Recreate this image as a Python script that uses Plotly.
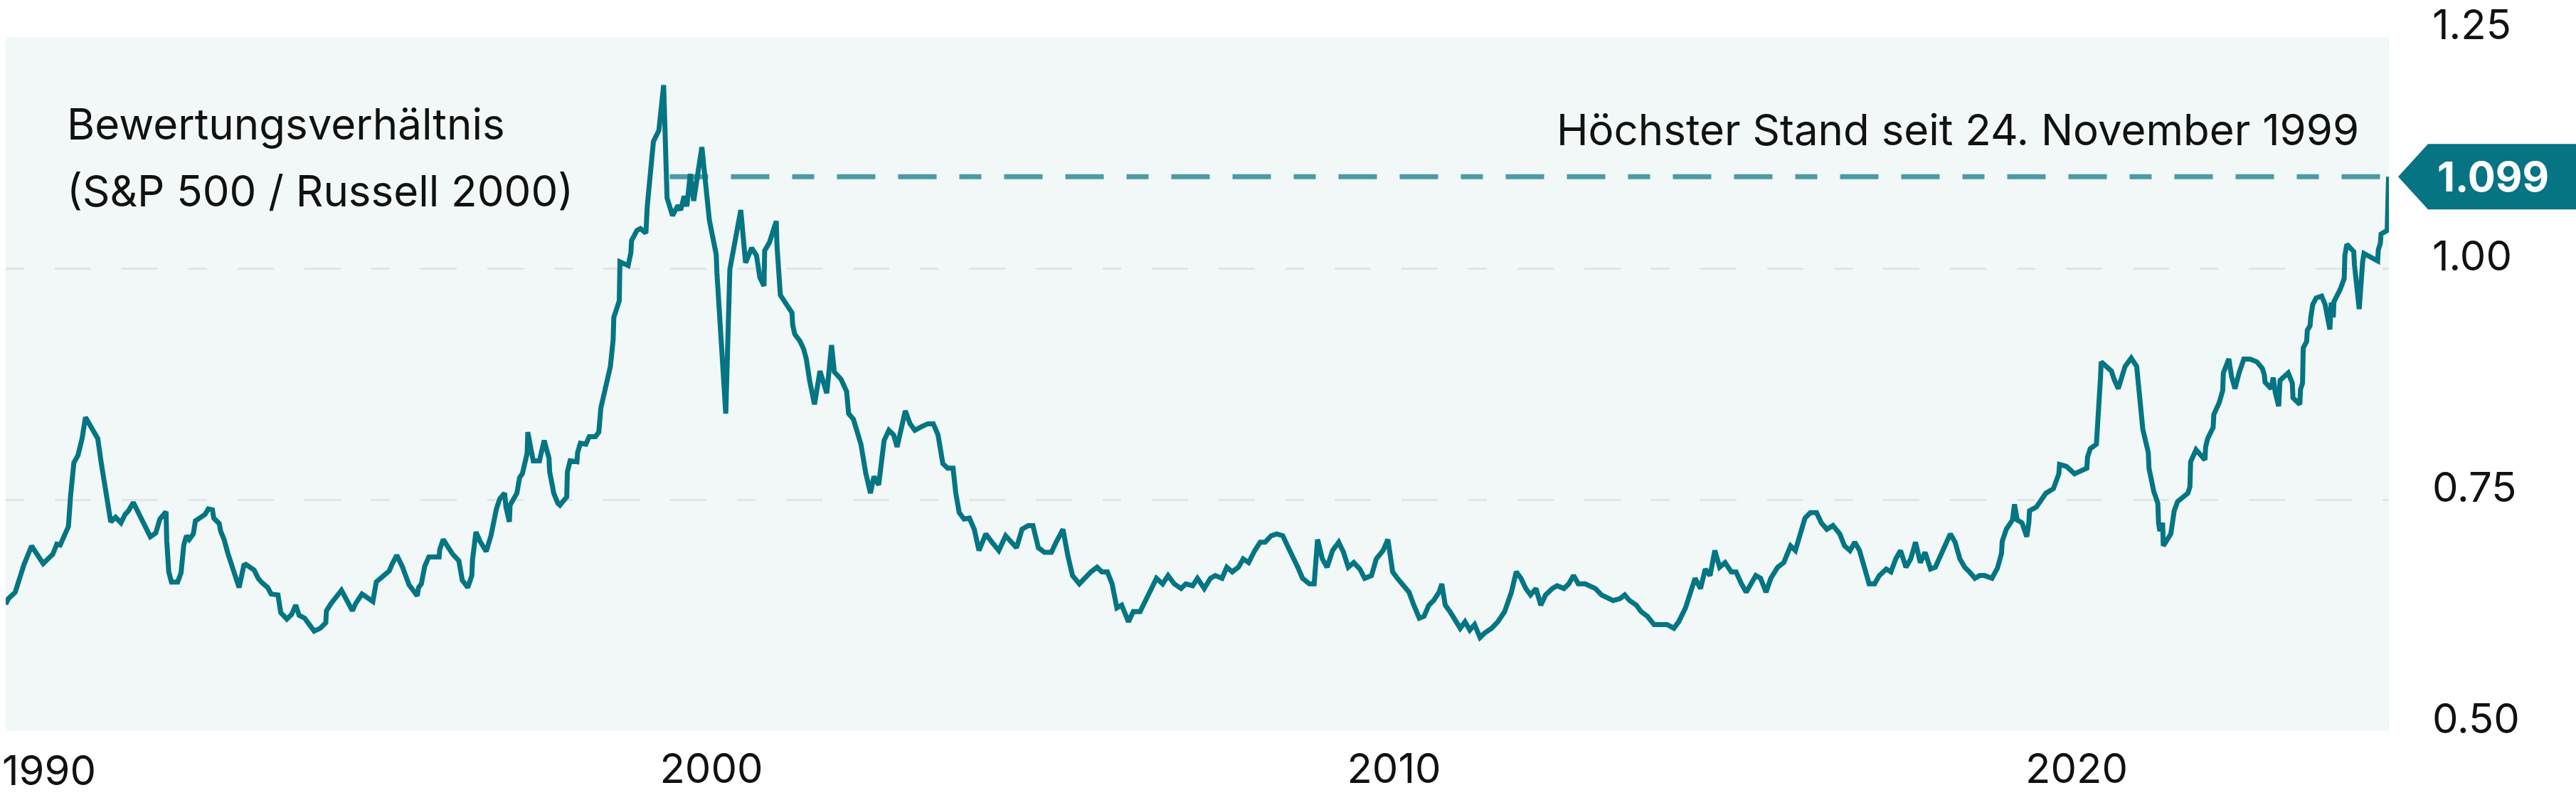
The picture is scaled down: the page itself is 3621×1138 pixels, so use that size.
import plotly.graph_objects as go

# Bewertungsverhältnis S&P 500 / Russell 2000
years = [
    1989.66, 1989.70, 1989.80, 1989.85, 1989.93, 1990.04, 1990.12, 1990.21, 1990.35, 1990.41,
    1990.46, 1990.58, 1990.61, 1990.66, 1990.72, 1990.78, 1990.83, 1990.92, 1991.01, 1991.06,
    1991.12, 1991.20, 1991.27, 1991.35, 1991.41, 1991.46, 1991.53, 1991.61, 1991.66, 1991.78,
    1991.86, 1991.92, 1992.01, 1992.02, 1992.05, 1992.09, 1992.18, 1992.23, 1992.27, 1992.31,
    1992.35, 1992.41, 1992.44, 1992.52, 1992.58, 1992.63, 1992.69, 1992.71, 1992.79, 1992.81,
    1992.86, 1992.92, 1993.00, 1993.08, 1993.15, 1993.18, 1993.30, 1993.36, 1993.42, 1993.50,
    1993.55, 1993.65, 1993.69, 1993.78, 1993.85, 1993.91, 1993.96, 1994.04, 1994.12, 1994.18,
    1994.27, 1994.35, 1994.36, 1994.43, 1994.58, 1994.65, 1994.74, 1994.79, 1994.88, 1995.04,
    1995.06, 1995.09, 1995.20, 1995.28, 1995.32, 1995.39, 1995.47, 1995.55, 1995.57, 1995.69,
    1995.71, 1995.75, 1995.80, 1995.86, 1996.01, 1996.02, 1996.07, 1996.14, 1996.21, 1996.30,
    1996.35, 1996.43, 1996.49, 1996.50, 1996.55, 1996.61, 1996.70, 1996.77, 1996.85, 1996.90,
    1996.97, 1996.99, 1997.04, 1997.05, 1997.15, 1997.19, 1997.23, 1997.30, 1997.31, 1997.35,
    1997.39, 1997.48, 1997.55, 1997.62, 1997.63, 1997.67, 1997.69, 1997.75, 1997.78, 1997.88,
    1997.89, 1997.93, 1998.03, 1998.04, 1998.08, 1998.16, 1998.21, 1998.30, 1998.35, 1998.38,
    1998.44, 1998.49, 1998.52, 1998.56, 1998.57, 1998.65, 1998.66, 1998.78, 1998.82, 1998.83,
    1998.91, 1998.96, 1999.04, 1999.06, 1999.11, 1999.14, 1999.15, 1999.23, 1999.30, 1999.32,
    1999.33, 1999.35, 1999.43, 1999.51, 1999.55, 1999.60, 1999.64, 1999.69, 1999.74, 1999.86,
    1999.97, 2000.07, 2000.08, 2000.21, 2000.27, 2000.43, 2000.50, 2000.59, 2000.66, 2000.71,
    2000.77, 2000.78, 2000.85, 2000.95, 2000.96, 2001.01, 2001.18, 2001.19, 2001.22, 2001.30,
    2001.35, 2001.39, 2001.44, 2001.51, 2001.59, 2001.69, 2001.76, 2001.80, 2001.90, 2001.98,
    2002.01, 2002.08, 2002.19, 2002.26, 2002.33, 2002.38, 2002.45, 2002.53, 2002.60, 2002.67,
    2002.72, 2002.77, 2002.84, 2002.91, 2002.98, 2003.08, 2003.17, 2003.25, 2003.32, 2003.39,
    2003.46, 2003.54, 2003.58, 2003.63, 2003.70, 2003.78, 2003.85, 2003.92, 2004.02, 2004.11,
    2004.21, 2004.31, 2004.40, 2004.47, 2004.55, 2004.64, 2004.71, 2004.79, 2004.88, 2004.98,
    2005.05, 2005.15, 2005.22, 2005.29, 2005.39, 2005.46, 2005.56, 2005.65, 2005.72, 2005.80,
    2005.87, 2005.94, 2006.01, 2006.11, 2006.18, 2006.28, 2006.35, 2006.42, 2006.52, 2006.61,
    2006.69, 2006.78, 2006.88, 2006.95, 2007.05, 2007.12, 2007.22, 2007.31, 2007.38, 2007.48,
    2007.55, 2007.63, 2007.72, 2007.79, 2007.87, 2007.96, 2008.04, 2008.11, 2008.20, 2008.28,
    2008.37, 2008.44, 2008.52, 2008.59, 2008.66, 2008.76, 2008.83, 2008.88, 2008.95, 2009.02,
    2009.10, 2009.19, 2009.26, 2009.33, 2009.41, 2009.50, 2009.57, 2009.67, 2009.74, 2009.84,
    2009.91, 2009.98, 2010.05, 2010.15, 2010.22, 2010.29, 2010.37, 2010.44, 2010.51, 2010.58,
    2010.66, 2010.70, 2010.75, 2010.82, 2010.90, 2010.97, 2011.04, 2011.11, 2011.18, 2011.26,
    2011.33, 2011.43, 2011.52, 2011.62, 2011.72, 2011.79, 2011.86, 2011.93, 2012.00, 2012.08,
    2012.15, 2012.22, 2012.32, 2012.39, 2012.49, 2012.56, 2012.63, 2012.70, 2012.80, 2012.87,
    2012.95, 2013.04, 2013.14, 2013.21, 2013.31, 2013.38, 2013.45, 2013.55, 2013.62, 2013.71,
    2013.81, 2013.91, 2014.00, 2014.10, 2014.17, 2014.27, 2014.34, 2014.41, 2014.49, 2014.56,
    2014.63, 2014.70, 2014.77, 2014.85, 2014.94, 2015.01, 2015.09, 2015.16, 2015.23, 2015.30,
    2015.37, 2015.45, 2015.52, 2015.62, 2015.71, 2015.81, 2015.88, 2015.95, 2016.02, 2016.10,
    2016.19, 2016.26, 2016.34, 2016.43, 2016.53, 2016.60, 2016.68, 2016.75, 2016.82, 2016.89,
    2016.96, 2017.04, 2017.11, 2017.21, 2017.28, 2017.35, 2017.42, 2017.50, 2017.57, 2017.64,
    2017.71, 2017.78, 2017.86, 2017.93, 2018.00, 2018.07, 2018.15, 2018.22, 2018.29, 2018.36,
    2018.43, 2018.51, 2018.58, 2018.65, 2018.76, 2018.84, 2018.90, 2018.91, 2018.97, 2019.06,
    2019.09, 2019.13, 2019.20, 2019.27, 2019.30, 2019.31, 2019.41, 2019.47, 2019.55, 2019.66,
    2019.74, 2019.75, 2019.80, 2019.85, 2019.97, 2020.15, 2020.16, 2020.20, 2020.29, 2020.30,
    2020.33, 2020.34, 2020.35, 2020.36, 2020.51, 2020.55, 2020.61, 2020.71, 2020.80, 2020.88,
    2020.92, 2020.97, 2021.05, 2021.06, 2021.13, 2021.19, 2021.20, 2021.22, 2021.26, 2021.27,
    2021.38, 2021.42, 2021.43, 2021.48, 2021.55, 2021.63, 2021.66, 2021.67, 2021.75, 2021.88,
    2021.89, 2021.92, 2022.00, 2022.01, 2022.09, 2022.14, 2022.15, 2022.23, 2022.27, 2022.32,
    2022.38, 2022.45, 2022.54, 2022.64, 2022.72, 2022.75, 2022.76, 2022.85, 2022.88, 2022.91,
    2022.96, 2022.98, 2023.10, 2023.16, 2023.17, 2023.27, 2023.28, 2023.31, 2023.32, 2023.37,
    2023.38, 2023.42, 2023.43, 2023.46, 2023.51, 2023.59, 2023.64, 2023.71, 2023.73, 2023.76,
    2023.77, 2023.86, 2023.92, 2023.93, 2023.96, 2024.06, 2024.07, 2024.14, 2024.19, 2024.21,
    2024.41, 2024.42, 2024.45, 2024.46, 2024.55, 2024.56, 2024.57,
]
ratio = [
    0.637, 0.643, 0.650, 0.663, 0.680, 0.700, 0.692, 0.681, 0.691, 0.702,
    0.701, 0.721, 0.753, 0.790, 0.798, 0.816, 0.839, 0.828, 0.816, 0.790,
    0.759, 0.726, 0.731, 0.725, 0.734, 0.738, 0.747, 0.736, 0.727, 0.710,
    0.714, 0.729, 0.737, 0.706, 0.672, 0.661, 0.661, 0.671, 0.701, 0.711,
    0.707, 0.713, 0.727, 0.731, 0.734, 0.740, 0.739, 0.730, 0.724, 0.716,
    0.707, 0.691, 0.671, 0.655, 0.679, 0.680, 0.674, 0.665, 0.660, 0.655,
    0.648, 0.647, 0.628, 0.621, 0.626, 0.636, 0.625, 0.622, 0.614, 0.608,
    0.611, 0.617, 0.630, 0.638, 0.652, 0.643, 0.630, 0.638, 0.648, 0.640,
    0.650, 0.661, 0.668, 0.673, 0.680, 0.690, 0.678, 0.664, 0.658, 0.646,
    0.655, 0.659, 0.678, 0.688, 0.688, 0.696, 0.707, 0.699, 0.691, 0.684,
    0.663, 0.655, 0.668, 0.685, 0.715, 0.705, 0.694, 0.711, 0.740, 0.751,
    0.757, 0.742, 0.726, 0.744, 0.757, 0.774, 0.778, 0.800, 0.823, 0.807,
    0.792, 0.792, 0.814, 0.795, 0.780, 0.765, 0.757, 0.746, 0.744, 0.753,
    0.780, 0.792, 0.791, 0.801, 0.811, 0.810, 0.818, 0.818, 0.823, 0.849,
    0.867, 0.880, 0.894, 0.923, 0.947, 0.965, 1.007, 1.003, 1.017, 1.030,
    1.041, 1.043, 1.038, 1.067, 1.105, 1.124, 1.137, 1.149, 1.198, 1.149,
    1.097, 1.076, 1.057, 1.068, 1.063, 1.078, 1.067, 1.102, 1.073, 1.131,
    1.052, 1.015, 0.996, 0.843, 0.999, 1.063, 1.006, 1.022, 1.014, 0.990,
    0.981, 1.019, 1.028, 1.051, 1.025, 0.971, 0.952, 0.939, 0.929, 0.921,
    0.913, 0.902, 0.878, 0.853, 0.889, 0.865, 0.917, 0.888, 0.880, 0.867,
    0.843, 0.837, 0.810, 0.779, 0.757, 0.775, 0.766, 0.814, 0.825, 0.820,
    0.807, 0.825, 0.846, 0.832, 0.825, 0.829, 0.832, 0.832, 0.820, 0.789,
    0.784, 0.784, 0.757, 0.736, 0.729, 0.730, 0.718, 0.695, 0.713, 0.704,
    0.695, 0.711, 0.704, 0.698, 0.718, 0.722, 0.722, 0.698, 0.693, 0.693,
    0.704, 0.718, 0.690, 0.668, 0.659, 0.665, 0.672, 0.677, 0.672, 0.672,
    0.659, 0.633, 0.636, 0.618, 0.629, 0.629, 0.640, 0.650, 0.665, 0.659,
    0.668, 0.659, 0.654, 0.659, 0.657, 0.665, 0.654, 0.665, 0.668, 0.665,
    0.677, 0.672, 0.677, 0.686, 0.682, 0.695, 0.704, 0.704, 0.711, 0.713,
    0.711, 0.700, 0.686, 0.677, 0.665, 0.659, 0.659, 0.707, 0.686, 0.677,
    0.695, 0.704, 0.693, 0.677, 0.682, 0.675, 0.665, 0.668, 0.686, 0.695,
    0.707, 0.672, 0.665, 0.657, 0.650, 0.636, 0.622, 0.624, 0.636, 0.641,
    0.650, 0.659, 0.636, 0.629, 0.618, 0.611, 0.618, 0.609, 0.615, 0.601,
    0.606, 0.611, 0.618, 0.629, 0.650, 0.672, 0.665, 0.654, 0.647, 0.654,
    0.636, 0.647, 0.654, 0.657, 0.654, 0.659, 0.668, 0.659, 0.659, 0.657,
    0.654, 0.647, 0.643, 0.641, 0.643, 0.647, 0.641, 0.636, 0.629, 0.624,
    0.615, 0.615, 0.615, 0.611, 0.618, 0.633, 0.650, 0.665, 0.654, 0.675,
    0.668, 0.695, 0.677, 0.682, 0.672, 0.672, 0.659, 0.650, 0.659, 0.668,
    0.665, 0.650, 0.665, 0.677, 0.682, 0.700, 0.695, 0.713, 0.730, 0.736,
    0.736, 0.725, 0.718, 0.722, 0.713, 0.700, 0.695, 0.704, 0.695, 0.677,
    0.659, 0.659, 0.668, 0.675, 0.672, 0.686, 0.695, 0.677, 0.686, 0.704,
    0.682, 0.693, 0.675, 0.677, 0.690, 0.700, 0.713, 0.704, 0.686, 0.677,
    0.672, 0.665, 0.668, 0.668, 0.665, 0.676, 0.692, 0.705, 0.718, 0.728,
    0.745, 0.728, 0.725, 0.710, 0.725, 0.738, 0.742, 0.748, 0.757, 0.762,
    0.778, 0.788, 0.787, 0.786, 0.778, 0.784, 0.796, 0.805, 0.810, 0.822,
    0.841, 0.861, 0.882, 0.899, 0.889, 0.880, 0.870, 0.894, 0.903, 0.894,
    0.861, 0.826, 0.801, 0.784, 0.759, 0.746, 0.725, 0.716, 0.725, 0.700,
    0.713, 0.728, 0.738, 0.748, 0.753, 0.757, 0.764, 0.791, 0.804, 0.793,
    0.807, 0.816, 0.828, 0.842, 0.855, 0.868, 0.887, 0.902, 0.883, 0.870,
    0.887, 0.902, 0.902, 0.899, 0.892, 0.885, 0.877, 0.870, 0.882, 0.866,
    0.851, 0.879, 0.887, 0.876, 0.860, 0.853, 0.869, 0.876, 0.914, 0.921,
    0.933, 0.938, 0.947, 0.961, 0.968, 0.970, 0.961, 0.934, 0.963, 0.947,
    0.964, 0.977, 0.989, 1.014, 1.026, 1.018, 1.004, 0.956, 1.007, 1.016,
    1.008, 1.020, 1.027, 1.037, 1.041, 1.077, 1.099,
]

x_range = [1989.661, 2024.575]
x_ticks = [2000, 2010, 2020]
x_ticktext = ["2000", "2010", "2020"]
first_year_label = "1990"

y_ticks = [0.50, 0.75, 1.00, 1.25]
y_ticktext = ["0.50", "0.75", "1.00", "1.25"]

ref_level = 1.099
ref_label = "1.099"
ref_start = 1999.39
ref_text = "Höchster Stand seit 24. November 1999"
title_lines = ["Bewertungsverhältnis", "(S&P 500 / Russell 2000)"]

TEAL = "#047583"
TEAL_LIGHT = "#4a9ba6"
GRID = "#e0e6e6"
BG = "#f2f7f7"
FONT = "Inter, Noto Sans, sans-serif"
FS = 58
FS_TEXT = 60

fig = go.Figure()

# reference level (dashed)
fig.add_trace(
    go.Scatter(
        x=[ref_start, years[-1]],
        y=[ref_level, ref_level],
        mode="lines",
        line=dict(color=TEAL_LIGHT, width=7, dash="54px,32px,54px,32px,31px,32px"),
        hoverinfo="skip",
        showlegend=False,
    )
)

fig.add_trace(
    go.Scatter(
        x=years,
        y=ratio,
        mode="lines",
        line=dict(color=TEAL, width=7),
        showlegend=False,
    )
)

fig.update_layout(
    width=3621,
    height=1138,
    margin=dict(l=8, r=263, t=52, b=111),
    paper_bgcolor="white",
    plot_bgcolor=BG,
    font=dict(family=FONT, size=FS_TEXT, color="#111111"),
    showlegend=False,
)

fig.update_xaxes(
    range=x_range,
    tickvals=x_ticks,
    ticktext=x_ticktext,
    showgrid=False,
    zeroline=False,
    showline=False,
    ticks="",
    ticklabelstandoff=14,
    automargin=False,
    tickfont=dict(family=FONT, size=FS, color="#111111"),
)

fig.update_yaxes(
    range=[0.5, 1.25],
    tickvals=y_ticks,
    ticktext=y_ticktext,
    side="right",
    showgrid=True,
    gridcolor=GRID,
    gridwidth=3,
    griddash="26px,43px,51px,43px,51px,43px",
    zeroline=False,
    showline=False,
    ticks="",
    ticklabelstandoff=60,
    ticklabelshift=-17,
    ticklabeloverflow="allow",
    automargin=False,
    tickfont=dict(family=FONT, size=FS, color="#111111"),
)

# value tag at the right edge
fig.add_shape(
    type="path",
    xref="paper",
    yref="y",
    xsizemode="pixel",
    ysizemode="pixel",
    xanchor=1,
    yanchor=ref_level,
    path="M13,0 L55,46 L263,46 L263,-46 L55,-46 Z",
    fillcolor="#067482",
    line=dict(width=0),
    layer="above",
)
fig.add_annotation(
    xref="paper", yref="y", x=1, y=ref_level, xshift=146,
    text=f"<b>{ref_label}</b>", showarrow=False,
    font=dict(family=FONT, size=FS, color="white"),
    xanchor="center", yanchor="middle",
)

# texts
fig.add_annotation(
    xref="paper", yref="paper", x=0.0251, y=0.8744,
    text=title_lines[0], showarrow=False, xanchor="left", yanchor="middle",
)
fig.add_annotation(
    xref="paper", yref="paper", x=0.0251, y=0.778,
    text=title_lines[1], showarrow=False, xanchor="left", yanchor="middle",
)
fig.add_annotation(
    xref="paper", yref="paper", x=0.98806, y=0.8662,
    text=ref_text, showarrow=False, xanchor="right", yanchor="middle",
)
# first year label sits flush with the left edge instead of centred on its tick
fig.add_annotation(
    xref="paper", yref="paper", x=0, y=-0.0564, xshift=-7,
    text=first_year_label, showarrow=False, xanchor="left", yanchor="middle",
    font=dict(family=FONT, size=FS, color="#111111"),
)

fig.write_html(
    "out.html",
    config={"displayModeBar": False},
    post_script="document.body.style.margin='0px';",
)
